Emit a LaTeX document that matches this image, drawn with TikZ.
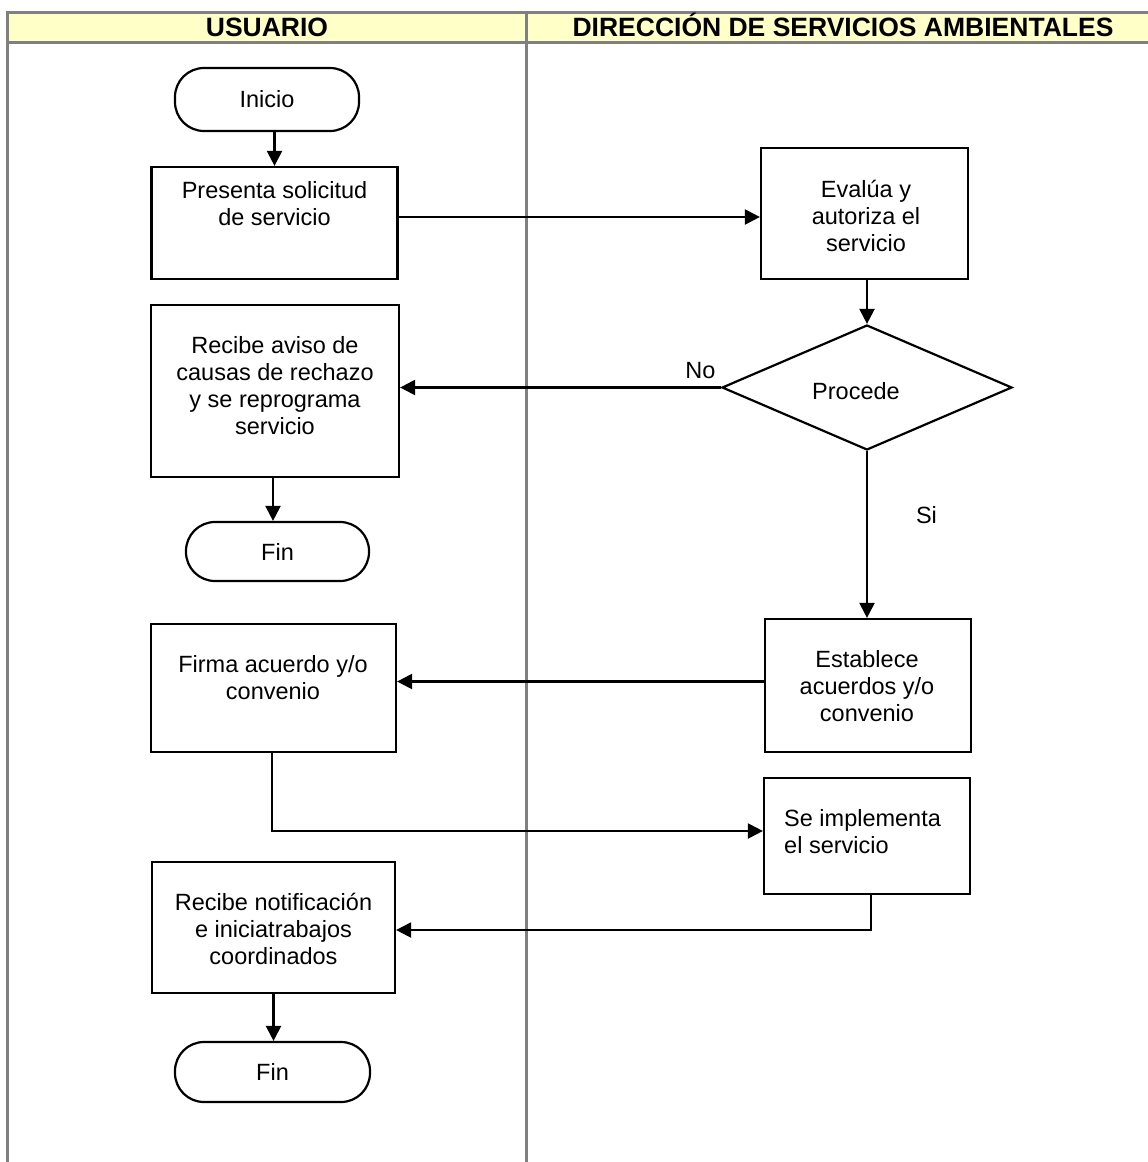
\documentclass[tikz,border=0pt]{standalone}
\usepackage{fontspec}
\setmainfont{Liberation Sans}
\usetikzlibrary{arrows.meta,shapes.geometric}
\definecolor{hdrfill}{HTML}{FFFFC8}
\definecolor{framegray}{HTML}{808080}
\newcommand\bodyfont{\fontsize{23.5}{27}\selectfont}
\newcommand\hdrfont{\fontsize{26.5}{30}\selectfont\bfseries}
\begin{document}
\begin{tikzpicture}[x=1pt,y=-1pt,
  box/.style={draw, line width=2.2pt, rectangle, inner sep=0pt},
  term/.style={draw, line width=2.2pt, rectangle, rounded corners=29pt, inner sep=0pt, font=\bodyfont},
  dec/.style={diamond, draw, line width=2.2pt, inner sep=0pt, minimum width=290pt, minimum height=125pt},
  txt/.style={inner sep=0pt, align=center, font=\bodyfont},
  lbl/.style={inner sep=0pt, font=\bodyfont, anchor=base},
  hdr/.style={inner sep=0pt, font=\hdrfont, anchor=base},
  arr/.style={line width=2.2pt, -{Triangle[length=15pt,width=15pt]}},
  lane/.style={draw=framegray, line width=3pt}]
\useasboundingbox (0,0) rectangle (1148,1162);
% swimlane frame
\fill[hdrfill] (7,12) rectangle (1148,42);
\draw[lane] (7,12) -- (1148,12);
\draw[lane] (7,42) -- (1148,42);
\draw[lane] (7,10.5) -- (7,1162);
\draw[lane] (526,10.5) -- (526,1162);
\node[hdr] (h1) at (267,36) {USUARIO};
\node[hdr] (h2) at (843,36) {DIRECCIÓN DE SERVICIOS AMBIENTALES};
% nodes
\node[term, minimum width=184pt, minimum height=63pt] (inicio) at (267,99.5) {Inicio};
\node[box, minimum width=246pt, minimum height=112pt] (presenta) at (274.5,223) {};
\node[txt] (presentaT) at (274.5,207) {\strut Presenta solicitud\\de servicio\strut};
\node[box, minimum width=207pt, minimum height=131pt] (evalua) at (864.5,213.5) {};
\node[txt] (evaluaT) at (866,219) {\strut Evalúa y\\autoriza el\\servicio\strut};
\node[dec] (procede) at (867,387.5) {};
\node[lbl] (procedeT) at (856,399) {Procede};
\node[box, minimum width=248pt, minimum height=172pt] (aviso) at (275,391) {};
\node[txt] (avisoT) at (275,388.5) {\strut Recibe aviso de\\causas de rechazo\\y se reprograma\\servicio\strut};
\node[term, minimum width=183pt, minimum height=59pt] (fin1) at (277.5,551.5) {Fin};
\node[box, minimum width=206pt, minimum height=133pt] (establece) at (868,685.5) {};
\node[txt] (estableceT) at (867,689) {\strut Establece\\acuerdos y/o\\convenio\strut};
\node[box, minimum width=245pt, minimum height=128pt] (firma) at (273.5,688) {};
\node[txt] (firmaT) at (273,681) {\strut Firma acuerdo y/o\\convenio\strut};
\node[box, minimum width=206pt, minimum height=116pt] (seimpl) at (867,836) {};
\node[txt, align=left, anchor=west] (seimplT) at (784,835) {\strut Se implementa\\el servicio\strut};
\node[box, minimum width=243pt, minimum height=131pt] (notif) at (273.5,927.5) {};
\node[txt] (notifT) at (273.5,932) {\strut Recibe notificación\\e iniciatrabajos\\coordinados\strut};
\node[term, minimum width=195pt, minimum height=60pt] (fin2) at (272.5,1072) {Fin};
% connectors
\draw[arr] (presenta.north |- inicio.south) -- (presenta.north);
\draw[arr] ([yshift=6pt]presenta.east) -- ([yshift=6pt]presenta.east -| evalua.west);
\draw[arr] (procede.north |- evalua.south) -- (procede.north);
\draw[arr] (procede.west) -- (procede.west -| aviso.east);
\node[lbl] (noL) at (700.5,378) {No};
\draw[arr] ([xshift=-2pt]aviso.south) -- ([xshift=-2pt]aviso.south |- fin1.north);
\draw[arr] (procede.south) -- (procede.south |- establece.north);
\node[lbl] (siL) at (926.5,523) {Si};
\draw[arr] ([yshift=4pt]establece.west) -- ([yshift=4pt]establece.west -| firma.east);
\draw[arr] ([xshift=-1.5pt]firma.south) |- ([yshift=5pt]seimpl.west);
\draw[arr] ([xshift=4pt]seimpl.south) |- ([yshift=-2.5pt]notif.east);
\draw[arr] (notif.south) -- (notif.south |- fin2.north);
\end{tikzpicture}
\end{document}
